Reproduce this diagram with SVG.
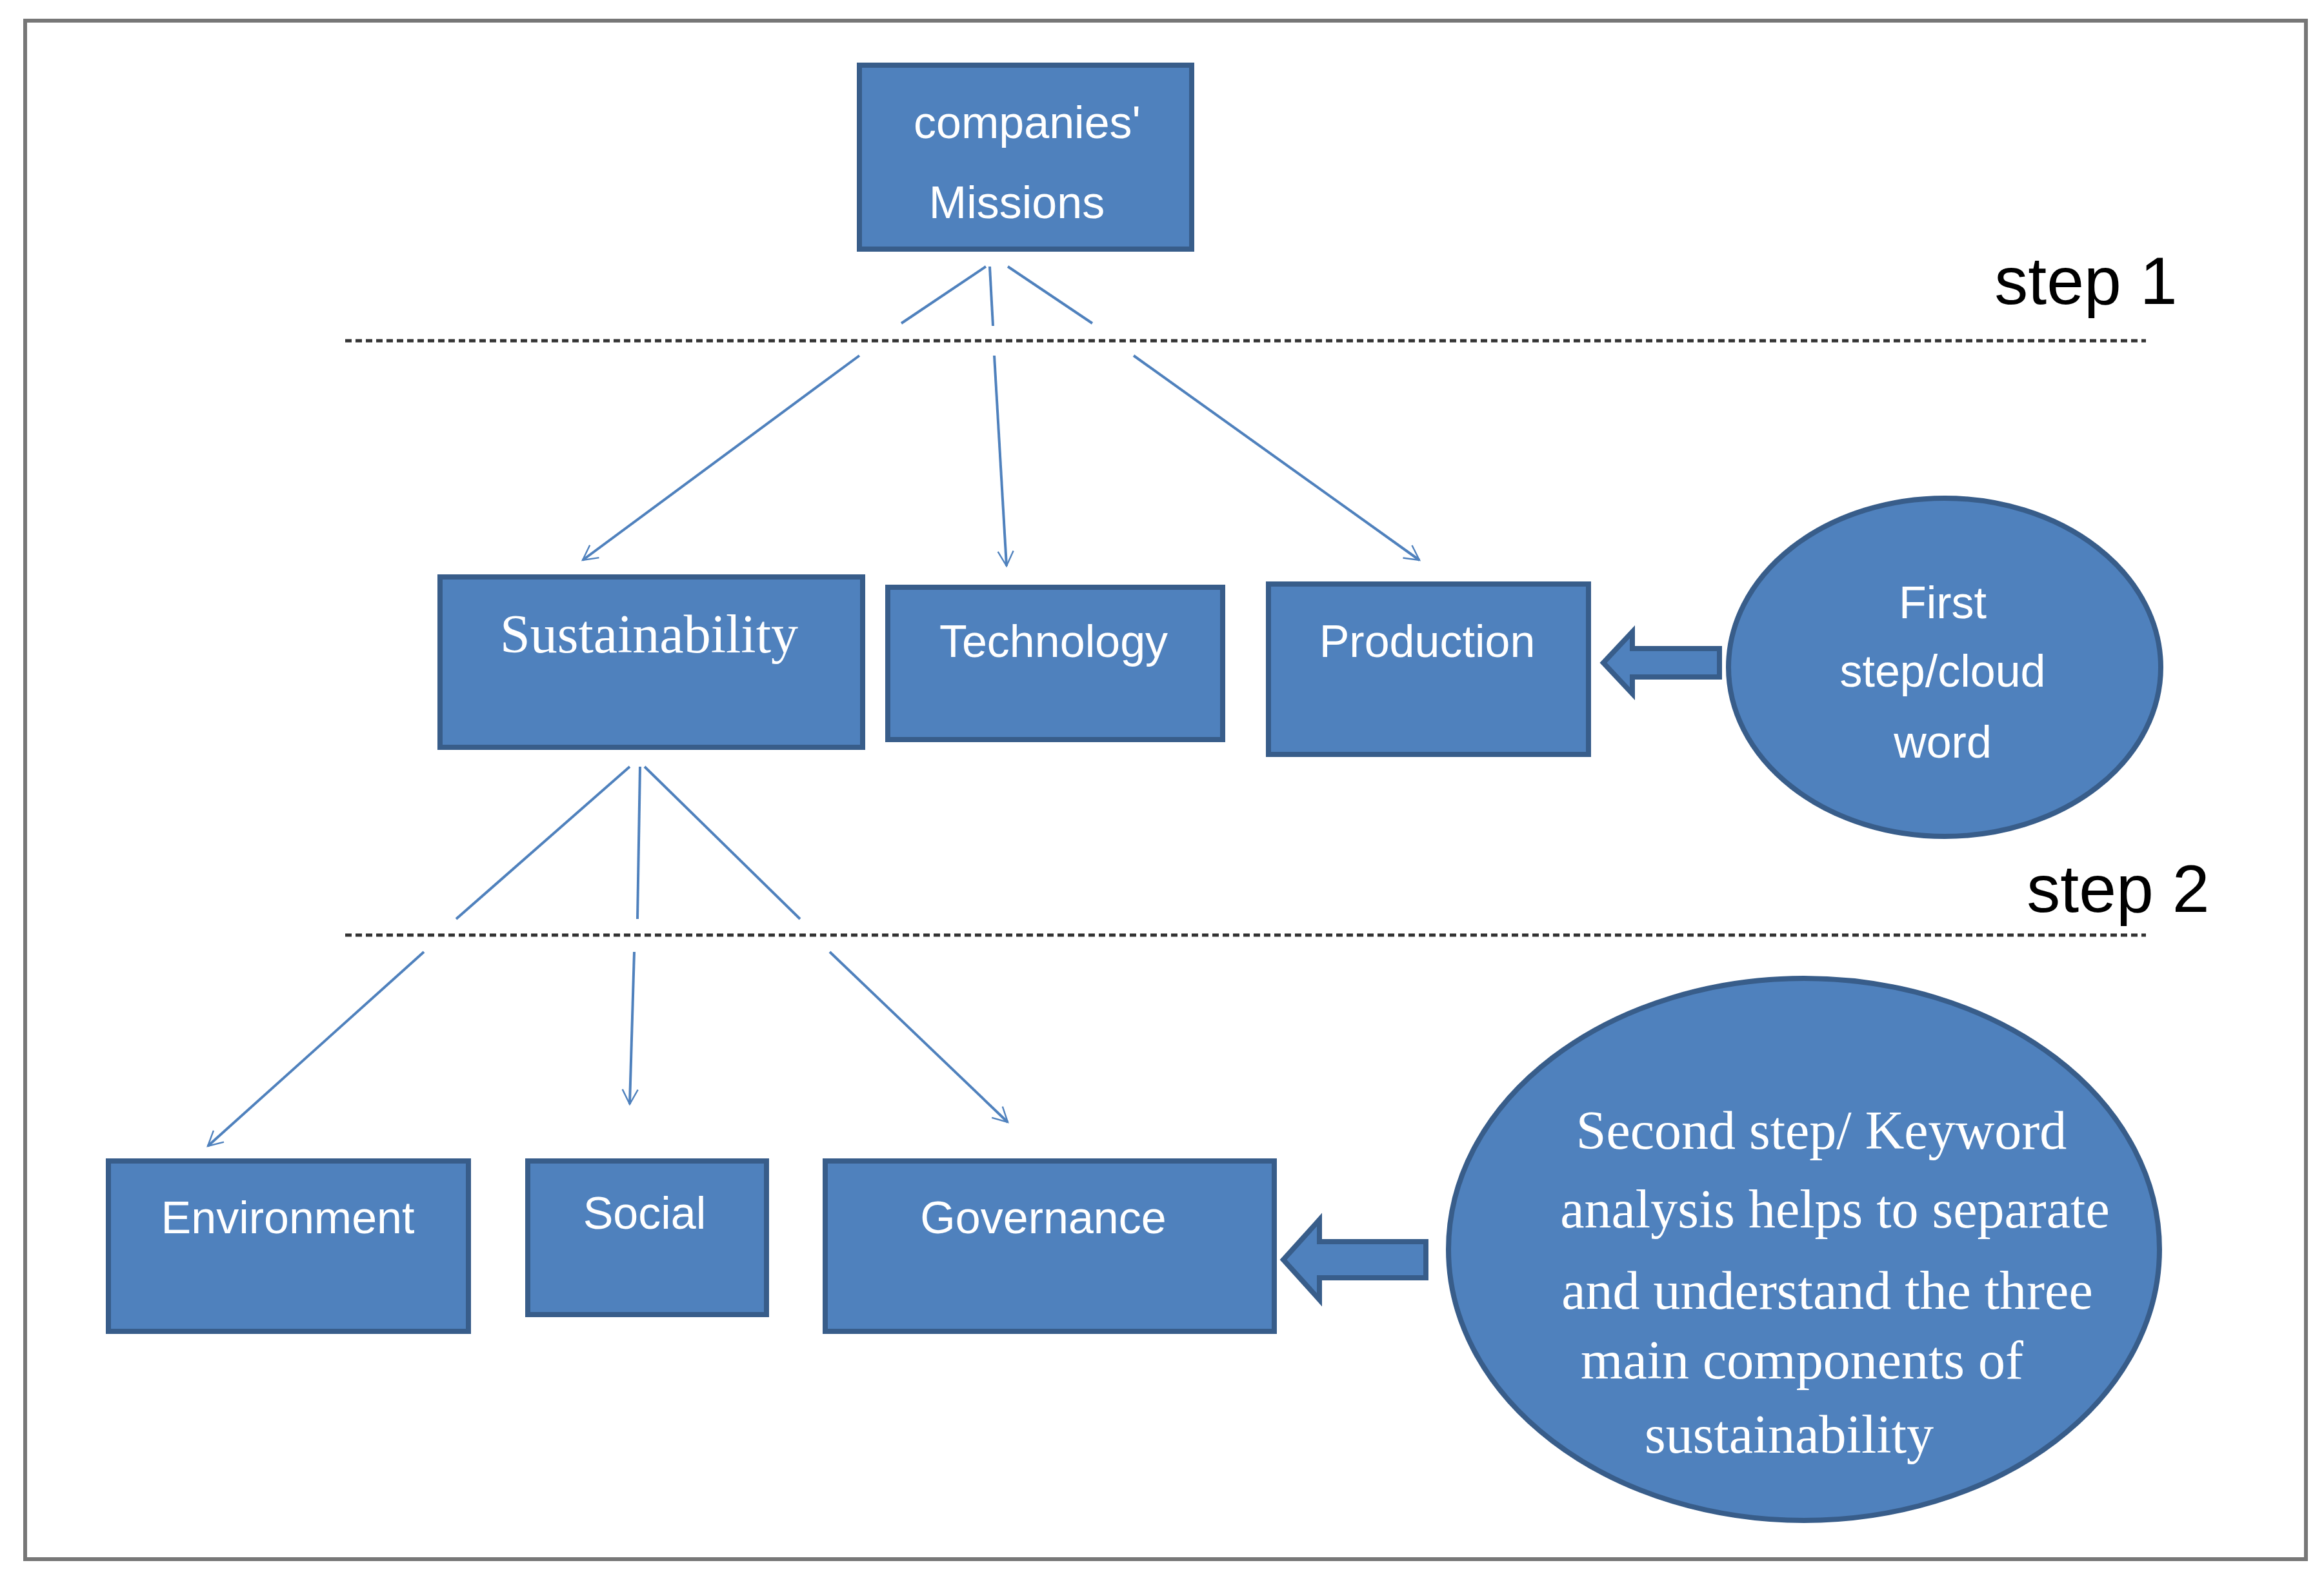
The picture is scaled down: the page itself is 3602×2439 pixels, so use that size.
<svg xmlns="http://www.w3.org/2000/svg" width="3602" height="2439" viewBox="0 0 3602 2439">
<defs>
<style>
.box{fill:#4f81bd;stroke:#385d8a;stroke-width:8}
.lbl{font-family:"Liberation Sans",Arial,sans-serif;font-size:70px;fill:#fff;text-anchor:middle}
.ser{font-family:"Liberation Serif","Times New Roman",serif;font-size:84px;fill:#fff;text-anchor:middle}
.step{font-family:"Liberation Sans",Arial,sans-serif;font-size:104px;fill:#000;text-anchor:middle}
.con{stroke:#4f81bd;stroke-width:4;fill:none}
.dash{stroke:#333;stroke-width:5;stroke-dasharray:10 6}
</style>
<marker id="ah" viewBox="0 0 20 20" refX="18" refY="10" markerWidth="12" markerHeight="12" markerUnits="userSpaceOnUse" orient="auto" overflow="visible">
<path d="M-20,-10 L18,10 L-20,30" fill="none" stroke="#4f81bd" stroke-width="4"/>
</marker>
</defs>
<rect x="0" y="0" width="3602" height="2439" fill="#fff"/>
<rect x="39" y="32" width="3535" height="2384" fill="#fff" stroke="#777" stroke-width="6"/>
<line class="dash" x1="535" y1="528" x2="3326" y2="528"/>
<line class="dash" x1="535" y1="1449" x2="3326" y2="1449"/>
<text class="step" x="3233" y="471">step 1</text>
<text class="step" x="3283" y="1413">step 2</text>
<g id="connectors">
<line class="con" x1="1528" y1="413" x2="1397" y2="501"/>
<line class="con" x1="1332" y1="551" x2="903" y2="868" marker-end="url(#ah)"/>
<line class="con" x1="1534" y1="413" x2="1539" y2="505"/>
<line class="con" x1="1541" y1="551" x2="1560" y2="877" marker-end="url(#ah)"/>
<line class="con" x1="1562" y1="413" x2="1693" y2="501"/>
<line class="con" x1="1757" y1="551" x2="2200" y2="868" marker-end="url(#ah)"/>
<line class="con" x1="976" y1="1188" x2="707" y2="1424"/>
<line class="con" x1="657" y1="1475" x2="322" y2="1776" marker-end="url(#ah)"/>
<line class="con" x1="992" y1="1188" x2="988" y2="1424"/>
<line class="con" x1="983" y1="1475" x2="976" y2="1711" marker-end="url(#ah)"/>
<line class="con" x1="999" y1="1188" x2="1240" y2="1424"/>
<line class="con" x1="1286" y1="1475" x2="1562" y2="1739" marker-end="url(#ah)"/>
<polygon class="box" points="2665,1005 2530,1005 2530,979 2485,1027 2530,1075 2530,1049 2665,1049"/>
<polygon class="box" points="2210,1924 2045,1924 2045,1890 1989,1952 2045,2014 2045,1980 2210,1980"/>
</g>
<g id="missions"><rect class="box" x="1332" y="101" width="515" height="285"/>
<text class="lbl" x="1592" y="214">companies'</text><text class="lbl" x="1576" y="338">Missions</text></g>
<g id="sustainability"><rect class="box" x="682" y="894" width="655" height="264"/>
<text class="ser" x="1006" y="1011">Sustainability</text></g>
<g id="technology"><rect class="box" x="1376" y="910" width="519" height="236"/>
<text class="lbl" x="1633" y="1018">Technology</text></g>
<g id="production"><rect class="box" x="1966" y="905" width="496" height="264"/>
<text class="lbl" x="2212" y="1018">Production</text></g>
<g id="first"><ellipse class="box" cx="3014" cy="1034" rx="335" ry="262"/>
<text class="lbl" x="3011" y="958">First</text><text class="lbl" x="3011" y="1064">step/cloud</text><text class="lbl" x="3011" y="1174">word</text></g>
<g id="environment"><rect class="box" x="168" y="1799" width="558" height="264"/>
<text class="lbl" x="446" y="1911">Environment</text></g>
<g id="social"><rect class="box" x="818" y="1799" width="370" height="238"/>
<text class="lbl" x="999" y="1904">Social</text></g>
<g id="governance"><rect class="box" x="1279" y="1799" width="696" height="264"/>
<text class="lbl" x="1617" y="1911">Governance</text></g>
<g id="second"><ellipse class="box" cx="2796" cy="1936" rx="551" ry="420"/>
<text class="ser" x="2823" y="1780">Second  step/ Keyword</text>
<text class="ser" x="2844" y="1902">analysis helps to separate</text>
<text class="ser" x="2832" y="2028">and understand the three</text>
<text class="ser" x="2793" y="2136">main components of</text>
<text class="ser" x="2773" y="2251">sustainability</text></g>
</svg>
